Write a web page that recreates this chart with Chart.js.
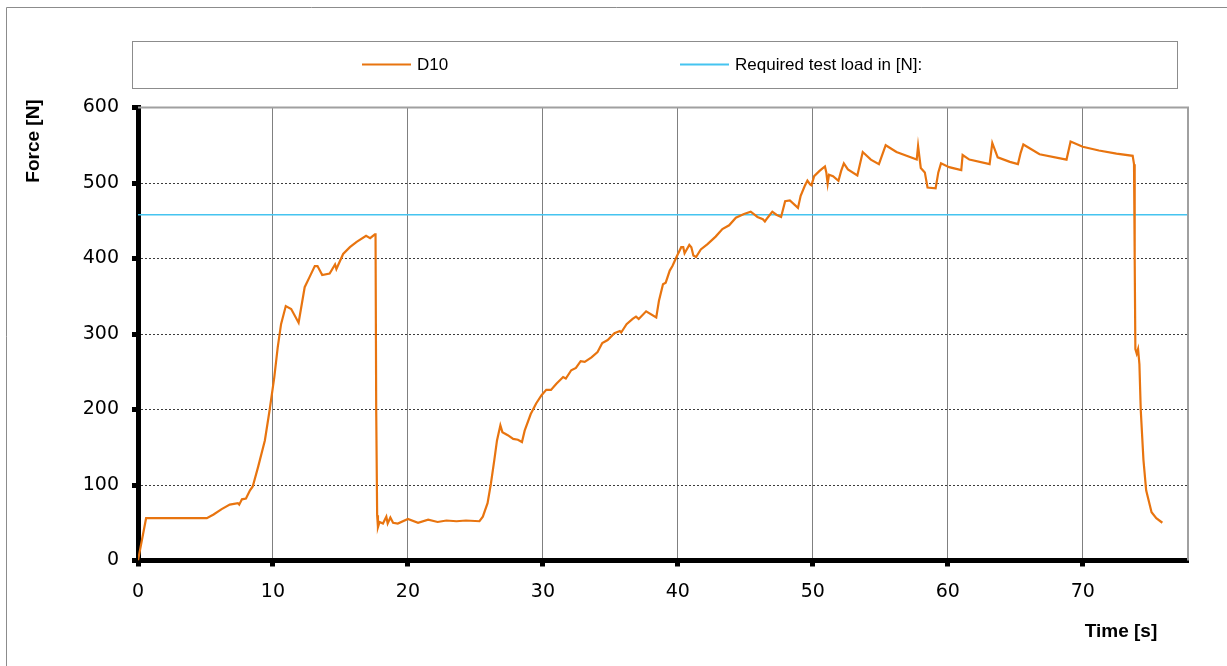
<!DOCTYPE html>
<html>
<head>
<meta charset="utf-8">
<title>D10 - Force over time</title>
<script src="https://cdn.jsdelivr.net/npm/chart.js@4.4.0/dist/chart.umd.min.js"></script>
<style>
    html, body { margin: 0; padding: 0; background: #ffffff; }
    #wrap { position: relative; width: 1227px; height: 666px; }
</style>
</head>
<body>
<div id="wrap"><canvas id="forceChart" width="1227" height="666"></canvas></div>
<script>
// D10 test curve
const timeD10 = [
    0.0, 0.6, 5.1, 5.6, 6.2, 6.8, 7.4, 7.5, 7.7, 8.0, 8.3, 8.5, 8.9, 9.4, 9.75, 10.1, 10.35, 10.6, 10.95, 11.35,
    11.9, 12.35, 12.7, 13.1, 13.3, 13.65, 14.2, 14.6, 14.7, 15.2, 15.7, 16.2, 16.9, 17.2, 17.55, 17.6, 17.65, 17.72, 17.78,
    17.9, 18.15, 18.4, 18.5, 18.7, 18.9, 19.25, 20.0, 20.75, 21.5, 22.2, 22.85, 23.6, 24.3, 25.3, 25.55, 25.9,
    26.15, 26.4, 26.6, 26.85, 27.0, 27.4, 27.8, 28.15, 28.45, 28.65, 29.1, 29.5, 29.9, 30.25, 30.6, 31.0, 31.5,
    31.7, 32.1, 32.45, 32.8, 33.1, 33.6, 34.05, 34.4, 34.8, 35.3, 35.7, 35.8, 36.2, 36.65, 36.9, 37.1, 37.65,
    38.4, 38.6, 38.9, 39.1, 39.4, 39.6, 39.9, 40.25, 40.4, 40.5, 40.85, 41.0, 41.15, 41.35, 41.7, 42.2, 42.8,
    43.3, 43.8, 44.3, 44.9, 45.4, 45.9, 46.3, 46.45, 46.65, 47.0, 47.3, 47.65, 47.95, 48.3, 48.9, 49.1, 49.4,
    49.6, 49.8, 49.9, 50.1, 50.5, 50.7, 50.9, 51.0, 51.1, 51.2, 51.5, 51.9, 52.1, 52.3, 52.6, 53.3, 53.7, 54.3,
    54.9, 55.4, 56.2, 57.7, 57.8, 58.0, 58.3, 58.5, 59.1, 59.3, 59.5, 60.1, 61.0, 61.1, 61.6, 63.1, 63.3, 63.7,
    64.6, 65.2, 65.4, 65.6, 66.8, 68.8, 69.1, 70.0, 71.2, 72.5, 73.7, 73.8, 73.85, 73.9, 74.0, 74.1, 74.2, 74.3,
    74.5, 74.7, 75.1, 75.45, 75.9
];
const forceD10 = [
    0, 56, 56, 61, 68, 74, 76, 74, 81, 82, 93, 98, 124, 159, 199, 243, 282, 313, 337, 333,
    315, 362, 375, 390, 390, 378, 380, 392, 386, 406, 415, 422, 430, 427, 432, 432, 200, 60, 44,
    51, 49, 58, 49, 57, 50, 49, 55, 50, 54, 51, 53, 52, 53, 52, 58, 76,
    102, 133, 159, 179, 170, 166, 161, 160, 157, 172, 194, 208, 219, 226, 226, 234, 243,
    241, 252, 255, 264, 263, 269, 276, 288, 292, 301, 304, 302, 313, 320, 323, 320, 330,
    322, 344, 366, 368, 384, 390, 402, 415, 415, 407, 418, 415, 404, 402, 412, 419, 429,
    439, 444, 454, 459, 462, 455, 452, 449, 454, 462, 458, 455, 476, 477, 467, 483, 496,
    503, 498, 497, 509, 516, 519, 522, 514, 499, 511, 509, 503, 516, 526, 518, 510, 541, 531,
    525, 550, 541, 531, 549, 520, 514, 494, 493, 514, 526, 521, 517, 537, 531, 525, 553, 534,
    528, 525, 540, 551, 538, 531, 555, 548, 543, 539, 536, 525, 400, 280, 274, 280, 260, 199,
    133, 93, 64, 56, 50
];
const requiredLoad = 458;
const xRange = [0, 77.8];
const xTicks = [0, 10, 20, 30, 40, 50, 60, 70];
const yTicks = [0, 100, 200, 300, 400, 500, 600];

const seriesNames = ["D10", "Required test load in [N]:"];
const seriesColors = ["#E8740F", "#45C4F0"];

// frame, legend box, top/right plot border and axis titles
const decorations = {
    id: "decorations",
    beforeDraw(chart) {
        let ctx = chart.ctx;
        ctx.save();
        ctx.fillStyle = "#ffffff";
        ctx.fillRect(0, 0, chart.width, chart.height);
        ctx.strokeStyle = "#8c8c8c";
        ctx.lineWidth = 1;
        ctx.beginPath();
        ctx.moveTo(6.5, chart.height);
        ctx.lineTo(6.5, 7.5);
        ctx.lineTo(chart.width, 7.5);
        ctx.stroke();
        ctx.restore();
    },
    afterDraw(chart) {
        let ctx = chart.ctx;
        let area = chart.chartArea;
        ctx.save();

        // top and right border of the plot area
        ctx.strokeStyle = "#a0a0a0";
        ctx.lineWidth = 2;
        ctx.beginPath();
        ctx.moveTo(area.left, area.top);
        ctx.lineTo(area.right, area.top);
        ctx.lineTo(area.right, area.bottom);
        ctx.stroke();

        // legend box
        ctx.strokeStyle = "#8c8c8c";
        ctx.lineWidth = 1;
        ctx.strokeRect(132.5, 41.5, 1045, 47);
        let legendX = [362, 680];
        chart.data.datasets.forEach((ds, i) => {
            ctx.strokeStyle = ds.borderColor;
            ctx.lineWidth = 2;
            ctx.beginPath();
            ctx.moveTo(legendX[i], 64.5);
            ctx.lineTo(legendX[i] + 49, 64.5);
            ctx.stroke();
            ctx.fillStyle = "#000";
            ctx.font = "17px 'Liberation Sans', Arial, sans-serif";
            ctx.textBaseline = "middle";
            ctx.textAlign = "left";
            ctx.fillText(ds.label, legendX[i] + 55, 65);
        });

        // axis titles
        ctx.font = "bold 19px 'Liberation Sans', Arial, sans-serif";
        ctx.fillStyle = "#000";
        ctx.textAlign = "center";
        ctx.textBaseline = "middle";
        ctx.fillText("Time [s]", 1121, 632);
        ctx.translate(34, 141);
        ctx.rotate(-Math.PI / 2);
        ctx.fillText("Force [N]", 0, 0);
        ctx.restore();
    }
};

let lineData = timeD10.map((t, i) => ({ x: t, y: forceD10[i] }));
let loadData = xRange.map(t => ({ x: t, y: requiredLoad }));

let tickFont = { family: "'DejaVu Sans', sans-serif", size: 19 };

new Chart(document.getElementById("forceChart").getContext("2d"), {
    type: "scatter",
    data: {
        datasets: [
            {
                label: seriesNames[0],
                data: lineData,
                showLine: true,
                borderColor: seriesColors[0],
                backgroundColor: seriesColors[0],
                borderWidth: 2.2,
                pointRadius: 0,
                tension: 0
            },
            {
                label: seriesNames[1],
                data: loadData,
                showLine: true,
                borderColor: seriesColors[1],
                backgroundColor: seriesColors[1],
                borderWidth: 1.5,
                pointRadius: 0
            }
        ]
    },
    options: {
        responsive: false,
        animation: false,
        layout: { padding: { top: 107.5, right: 39, left: 0, bottom: 0 } },
        plugins: {
            legend: { display: false },
            tooltip: { enabled: false }
        },
        scales: {
            x: {
                type: "linear",
                min: xRange[0],
                max: xRange[1],
                afterBuildTicks: scale => { scale.ticks = xTicks.map(v => ({ value: v })); },
                afterFit: scale => { scale.height = 105.5; },
                grid: { color: "#808080", lineWidth: 1, tickLength: 6, tickWidth: 5, tickColor: "#000", tickBorderDash: [] },
                border: { color: "#000", width: 5 },
                ticks: { color: "#000", font: tickFont, padding: 14, maxRotation: 0, includeBounds: false }
            },
            y: {
                type: "linear",
                min: 0,
                max: 600,
                afterBuildTicks: scale => { scale.ticks = yTicks.map(v => ({ value: v })); },
                afterFit: scale => { scale.width = 138; },
                grid: { color: "#3c3c3c", lineWidth: 1, tickLength: 6, tickWidth: 5, tickColor: "#000", tickBorderDash: [] },
                border: { color: "#000", width: 5, dash: [2, 2] },
                ticks: { color: "#000", font: tickFont, padding: 13 }
            }
        }
    },
    plugins: [decorations]
});
</script>
</body>
</html>
